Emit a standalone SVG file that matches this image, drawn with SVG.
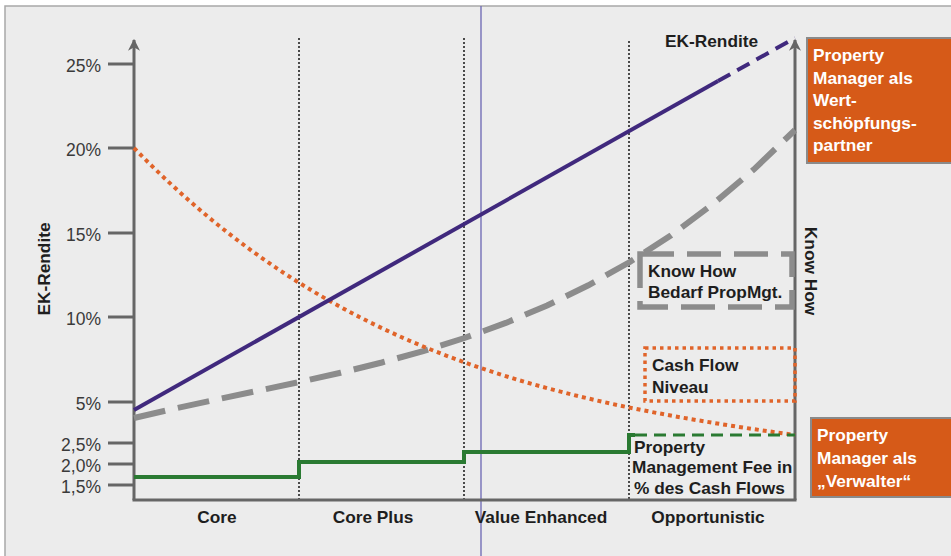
<svg xmlns="http://www.w3.org/2000/svg" width="951" height="556" viewBox="0 0 951 556">
<defs>
<style>
.tick{font-family:"Liberation Sans",Arial,sans-serif;font-size:17.5px;fill:#3a3a3a;text-anchor:end}
.lbl{font-family:"Liberation Sans",Arial,sans-serif;font-size:17.3px;font-weight:bold;fill:#1e1e1e}
.cat{font-family:"Liberation Sans",Arial,sans-serif;font-size:17.3px;font-weight:bold;fill:#1e1e1e;text-anchor:middle}
.wht{font-family:"Liberation Sans",Arial,sans-serif;font-size:17.3px;font-weight:bold;fill:#ffffff}
.axis{stroke:#666;stroke-width:3;fill:none}
.tk{stroke:#666;stroke-width:3}
.sep{stroke:#222;stroke-width:1.6;stroke-dasharray:2 2;fill:none}
.obox{fill:#d65a18;stroke:#8a8a8a;stroke-width:2}
</style>
<marker id="arr" viewBox="0 0 10 10" refX="9" refY="5" markerWidth="4" markerHeight="4" orient="auto" markerUnits="strokeWidth">
<path d="M0,0 L10,5 L0,10 L3,5 Z" fill="#666"/>
</marker>
</defs>
<rect x="0" y="0" width="951" height="556" fill="#ffffff"/>
<rect id="frame" x="5" y="6" width="960" height="560" fill="#ececec" stroke="#a8a8a8" stroke-width="1.5"/>

<g id="connectors">
<line x1="481" y1="6" x2="481" y2="556" stroke="#6b66b3" stroke-width="1.3"/>
<line class="sep" x1="299" y1="38" x2="299" y2="500"/>
<line class="sep" x1="464" y1="38" x2="464" y2="500"/>
<line class="sep" x1="629" y1="41" x2="629" y2="500"/>
</g>

<g id="axes">
<line class="axis" x1="134" y1="500" x2="134" y2="40" marker-end="url(#arr)"/>
<line class="axis" x1="795" y1="500" x2="795" y2="40" marker-end="url(#arr)"/>
<line class="axis" x1="132.5" y1="500" x2="796.5" y2="500"/>
<line class="tk" x1="108" y1="64" x2="134" y2="64"/>
<line class="tk" x1="108" y1="148" x2="134" y2="148"/>
<line class="tk" x1="108" y1="233" x2="134" y2="233"/>
<line class="tk" x1="108" y1="317" x2="134" y2="317"/>
<line class="tk" x1="108" y1="402" x2="134" y2="402"/>
<line class="tk" x1="108" y1="443" x2="134" y2="443"/>
<line class="tk" x1="108" y1="464" x2="134" y2="464"/>
<line class="tk" x1="108" y1="485" x2="134" y2="485"/>
<text class="tick" x="101" y="72">25%</text>
<text class="tick" x="101" y="156">20%</text>
<text class="tick" x="101" y="241">15%</text>
<text class="tick" x="101" y="325">10%</text>
<text class="tick" x="101" y="410">5%</text>
<text class="tick" x="101" y="451">2,5%</text>
<text class="tick" x="101" y="472">2,0%</text>
<text class="tick" x="101" y="493">1,5%</text>
<text class="lbl" x="0" y="0" text-anchor="middle" transform="translate(50,269) rotate(-90)">EK-Rendite</text>
<text class="lbl" x="0" y="0" text-anchor="middle" transform="translate(805,271) rotate(90)">Know How</text>
<text class="lbl" x="665" y="47">EK-Rendite</text>
<text class="cat" x="217" y="523">Core</text>
<text class="cat" x="373" y="523">Core Plus</text>
<text class="cat" x="541" y="523">Value Enhanced</text>
<text class="cat" x="708" y="523">Opportunistic</text>
</g>

<g id="series-grey">
<polyline points="134,418 175.3,408.4 216.6,399.5 257.9,390.8 299.3,382 340.6,372.7 381.9,362.5 423.2,351.1 464.5,338 505.8,322.9 547.1,305.5 588.4,285.3 629.8,262 671.1,235.2 712.4,204.5 753.7,169.6 795,130" fill="none" stroke="#8c8c8c" stroke-width="6" stroke-dasharray="32 13"/>
</g>
<g id="series-orange">
<path d="M134,148 C330,350 540,400 795,435" fill="none" stroke="#e0642a" stroke-width="4" stroke-dasharray="4 4"/>
</g>
<g id="series-purple">
<line x1="134" y1="410" x2="718" y2="81" stroke="#40297d" stroke-width="4"/>
<line x1="718" y1="81" x2="795" y2="38" stroke="#40297d" stroke-width="4" stroke-dasharray="14 8"/>
</g>
<g id="series-green">
<polyline points="134,477 299,477 299,462 464,462 464,452 629,452 629,435 635,435" fill="none" stroke="#2a7a32" stroke-width="4"/>
<line x1="635" y1="435" x2="795" y2="435" stroke="#2a7a32" stroke-width="3" stroke-dasharray="12 7"/>
</g>

<g id="knowhow-box">
<rect x="640" y="254" width="152" height="53" fill="none" stroke="#8c8c8c" stroke-width="5.5" stroke-dasharray="34 13"/>
<text class="lbl" x="648" y="277">Know How</text>
<text class="lbl" x="648" y="298">Bedarf PropMgt.</text>
</g>

<g id="cashflow-box">
<rect x="645" y="348" width="150" height="53" fill="none" stroke="#e0642a" stroke-width="3.5" stroke-dasharray="3.5 4"/>
<text class="lbl" x="652" y="371">Cash Flow</text>
<text class="lbl" x="652" y="393">Niveau</text>
</g>

<g id="fee-label">
<text class="lbl" x="634" y="453">Property</text>
<text class="lbl" x="632" y="473">Management Fee in</text>
<text class="lbl" x="634" y="494">% des Cash Flows</text>
</g>

<g id="pm-partner">
<rect class="obox" x="807" y="38" width="150" height="125"/>
<text class="wht" x="813" y="61">Property</text>
<text class="wht" x="813" y="84">Manager als</text>
<text class="wht" x="813" y="106">Wert-</text>
<text class="wht" x="813" y="129">schöpfungs-</text>
<text class="wht" x="813" y="151">partner</text>
</g>

<g id="pm-verwalter">
<rect class="obox" x="811" y="418" width="150" height="79"/>
<text class="wht" x="817" y="441">Property</text>
<text class="wht" x="817" y="464">Manager als</text>
<text class="wht" x="817" y="487">„Verwalter“</text>
</g>
</svg>
